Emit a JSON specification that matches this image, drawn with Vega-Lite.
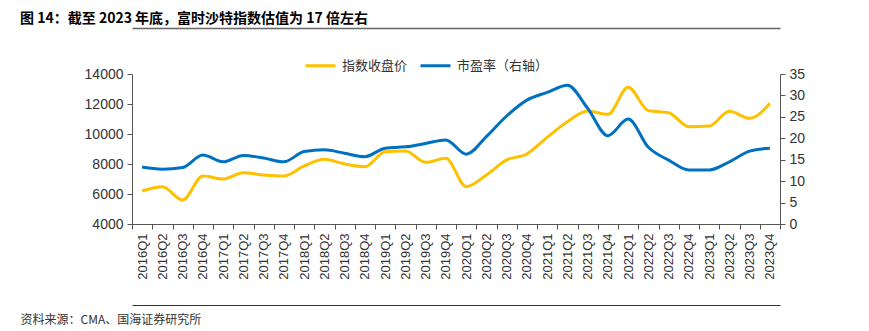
{
  "$schema": "https://vega.github.io/schema/vega-lite/v6.json",
  "width": 648,
  "height": 150,
  "autosize": {"type": "none"},
  "padding": {"left": 132, "top": 74, "right": 89, "bottom": 107},
  "background": "white",
  "title": {
    "text": "图 14：截至 2023 年底，富时沙特指数估值为 17 倍左右",
    "anchor": "start",
    "frame": "group",
    "dx": -112,
    "offset": 2,
    "font": "Noto Sans CJK SC",
    "fontSize": 14,
    "fontWeight": "bold",
    "color": "#000000"
  },
  "data": {
    "values": [
      {"q": "2016Q1", "close": 6200, "pe": 13.3},
      {"q": "2016Q2", "close": 6490, "pe": 12.8},
      {"q": "2016Q3", "close": 5600, "pe": 13.2},
      {"q": "2016Q4", "close": 7200, "pe": 16.1},
      {"q": "2017Q1", "close": 7000, "pe": 14.5},
      {"q": "2017Q2", "close": 7420, "pe": 16.0},
      {"q": "2017Q3", "close": 7270, "pe": 15.4},
      {"q": "2017Q4", "close": 7200, "pe": 14.5},
      {"q": "2018Q1", "close": 7870, "pe": 16.9},
      {"q": "2018Q2", "close": 8310, "pe": 17.3},
      {"q": "2018Q3", "close": 8000, "pe": 16.5},
      {"q": "2018Q4", "close": 7820, "pe": 15.7},
      {"q": "2019Q1", "close": 8820, "pe": 17.7},
      {"q": "2019Q2", "close": 8870, "pe": 18.0},
      {"q": "2019Q3", "close": 8110, "pe": 18.8},
      {"q": "2019Q4", "close": 8380, "pe": 19.6},
      {"q": "2020Q1", "close": 6490, "pe": 16.3},
      {"q": "2020Q2", "close": 7270, "pe": 20.4},
      {"q": "2020Q3", "close": 8270, "pe": 25.2},
      {"q": "2020Q4", "close": 8670, "pe": 28.9},
      {"q": "2021Q1", "close": 9780, "pe": 30.7},
      {"q": "2021Q2", "close": 10820, "pe": 32.4},
      {"q": "2021Q3", "close": 11530, "pe": 27.0},
      {"q": "2021Q4", "close": 11310, "pe": 20.6},
      {"q": "2022Q1", "close": 13110, "pe": 24.5},
      {"q": "2022Q2", "close": 11560, "pe": 17.9},
      {"q": "2022Q3", "close": 11420, "pe": 14.9},
      {"q": "2022Q4", "close": 10490, "pe": 12.6},
      {"q": "2023Q1", "close": 10530, "pe": 12.6},
      {"q": "2023Q2", "close": 11510, "pe": 14.5},
      {"q": "2023Q3", "close": 11050, "pe": 17.0},
      {"q": "2023Q4", "close": 12050, "pe": 17.7}
    ]
  },
  "layer": [
    {
      "mark": {"type": "line", "interpolate": "monotone", "strokeWidth": 3},
      "encoding": {
        "x": {
          "field": "q", "type": "ordinal", "bandPosition": 0.5,
          "scale": {"type": "band", "paddingInner": 0, "paddingOuter": 0},
          "axis": {
            "title": null, "labelAngle": -90, "labelFont": "Liberation Sans", "labelFontSize": 13,
            "labelColor": "#333333", "tickBand": "extent", "tickSize": 5, "tickColor": "#555555",
            "domainColor": "#555555", "labelPadding": 4, "grid": false
          }
        },
        "y": {
          "field": "close", "type": "quantitative",
          "scale": {"domain": [4000, 14000]},
          "axis": {
            "title": null, "orient": "left", "values": [4000, 6000, 8000, 10000, 12000, 14000],
            "format": "d",
            "labelFont": "Liberation Sans", "labelFontSize": 14, "labelColor": "#333333",
            "tickSize": 5, "tickColor": "#555555", "domainColor": "#555555", "grid": false, "labelPadding": 4
          }
        },
        "color": {
          "datum": "指数收盘价",
          "scale": {"domain": ["指数收盘价", "市盈率（右轴）"], "range": ["#FFC000", "#0070C0"]},
          "legend": {
            "title": null, "orient": "none", "legendX": 172, "legendY": -25, "direction": "horizontal",
            "symbolType": "stroke", "symbolSize": 900, "symbolStrokeWidth": 3,
            "labelFont": "Noto Sans CJK SC", "labelFontSize": 13, "labelColor": "#333333",
            "columnPadding": 6, "labelOffset": 5
          }
        }
      }
    },
    {
      "mark": {"type": "line", "interpolate": "monotone", "strokeWidth": 3},
      "encoding": {
        "x": {"field": "q", "type": "ordinal", "bandPosition": 0.5, "axis": null},
        "y": {
          "field": "pe", "type": "quantitative",
          "scale": {"domain": [0, 35]},
          "axis": {
            "title": null, "orient": "right", "values": [0, 5, 10, 15, 20, 25, 30, 35],
            "labelFont": "Liberation Sans", "labelFontSize": 14, "labelColor": "#333333",
            "tickSize": 5, "tickColor": "#555555", "domainColor": "#555555", "grid": false, "labelPadding": 4
          }
        },
        "color": {"datum": "市盈率（右轴）"}
      }
    },
    {
      "mark": {"type": "line", "opacity": 0},
      "encoding": {
        "x": {
          "field": "q", "type": "ordinal",
          "axis": {
            "orient": "top", "offset": 46, "labels": false, "ticks": false, "title": null,
            "domainColor": "#666666", "domainWidth": 1.5
          }
        },
        "y": {"field": "close", "type": "quantitative", "axis": null}
      }
    },
    {
      "mark": {"type": "line", "opacity": 0},
      "encoding": {
        "x": {
          "field": "q", "type": "ordinal",
          "axis": {
            "orient": "bottom", "offset": 81, "labels": false, "ticks": false,
            "title": "资料来源：CMA、国海证券研究所",
            "titleAnchor": "start", "titleAlign": "left", "titleX": -112, "titleY": 14,
            "titleBaseline": "middle", "titleFont": "Noto Sans CJK SC", "titleFontSize": 12,
            "titleFontWeight": "normal", "titleColor": "#333333",
            "domainColor": "#333333", "domainWidth": 1
          }
        },
        "y": {"field": "close", "type": "quantitative", "axis": null}
      }
    }
  ],
  "resolve": {"scale": {"y": "independent"}, "axis": {"x": "independent"}},
  "config": {"view": {"stroke": null}}
}
